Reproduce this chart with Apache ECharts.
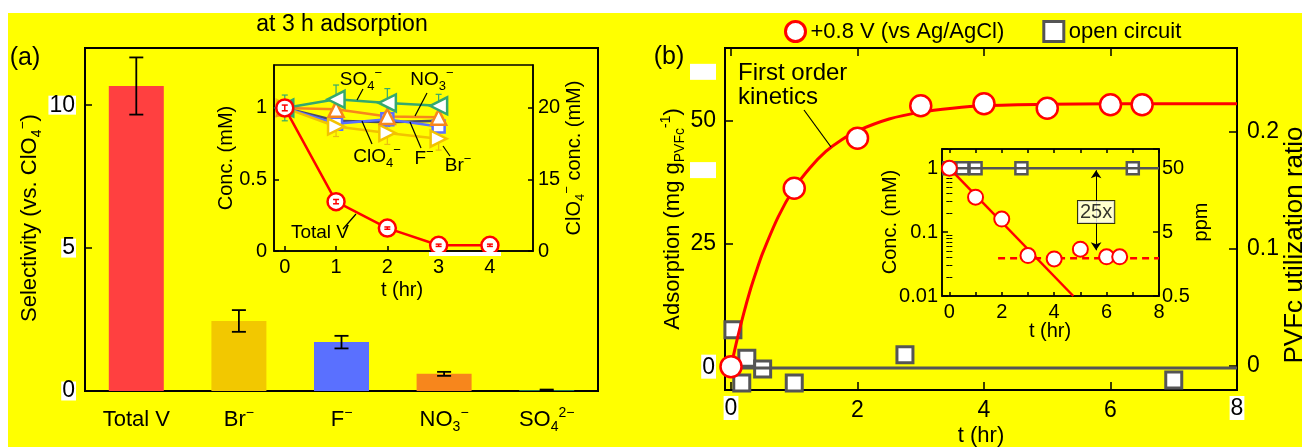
<!DOCTYPE html>
<html><head><meta charset="utf-8">
<script src="https://cdn.jsdelivr.net/npm/echarts@6/dist/echarts.min.js"></script>
<style>html,body{margin:0;padding:0;background:#fff}#c{width:1302px;height:447px}</style>
</head><body><div id="c"></div>
<script>
// ---------------- DATA ----------------
// Panel (a) main: selectivity at 3 h
const selCategories = ['Total V', 'Br{sup|−}', 'F{sup|−}', 'NO{sub|3}{sup|−}', 'SO{sub|4}{sup|2−}'];
const selValues = [10.67, 2.45, 1.71, 0.60, 0.03];
const selErrors = [1.0, 0.38, 0.22, 0.07, 0.02];
const selTicks = [0, 5, 10];

// Panel (a) inset: concentration vs time
const insetATime = [0, 1, 2, 3, 4];
const insetATimeIons = [0, 1, 2, 3];
const totalVConc = [1.0, 0.345, 0.16, 0.04, 0.04];
const totalVErr = [0.02, 0.015, 0.008, 0.008, 0.008];
const so4Conc = [1.0, 1.06, 1.035, 1.015];
const so4Err = [0.09, 0.10, 0.10, 0.08];
const no3Conc = [1.0, 0.99, 0.94, 0.935];
const no3Err = [0.02, 0.03, 0.03, 0.03];
const fConc = [1.0, 0.89, 0.92, 0.87];
const fErr = [0.02, 0.03, 0.05, 0.04];
const clo4Conc = [1.0, 0.91, 0.90, 0.91];
const brConc = [1.0, 0.87, 0.825, 0.785];
const brErr = [0.03, 0.07, 0.08, 0.08];
const insetATimeTicks = [0, 1, 2, 3, 4];
const insetAConcTicks = [0, 0.5, 1];
const insetARightLabels = ['0', '15', '20'];

// Panel (b) main: adsorption vs time
const fitTime = [0, 0.1, 0.2, 0.3, 0.4, 0.5, 0.75, 1, 1.25, 1.5, 1.75, 2, 2.5, 3, 3.5, 4, 5, 6, 7, 8];
const fitAds  = [0, 5.7, 10.8, 15.4, 19.4, 23.1, 30.6, 36.3, 40.5, 43.8, 46.2, 48.0, 50.4, 51.8, 52.6, 53.1, 53.4, 53.5, 53.5, 53.5];
const posTime = [0, 1, 2, 3, 4, 5, 6, 6.5];
const posAds  = [0, 36.3, 46.5, 53.1, 53.5, 52.6, 53.3, 53.3];
const ocTime  = [0.03, 0.25, 0.5, 0.17, 1.0, 2.75, 7.0];
const ocAds   = [7.5, 1.7, -0.5, -3.3, -3.3, 2.4, -2.7];
const ocLevelTime = [0, 8];
const ocLevelAds = [-0.25, -0.25];
const bTimeTicks = [0, 2, 4, 6, 8];
const bAdsTicks = [0, 25, 50];
const bAdsBlankTicks = [40, 60];
const bRatioTicks = [0, 0.1, 0.2];

// Panel (b) inset: log concentration vs time
const insetBPosTime = [0, 1, 2, 3, 4, 5, 6, 6.5];
const insetBPosConc = [1.0, 0.352, 0.16, 0.043, 0.038, 0.054, 0.041, 0.041];
const insetBOcTime = [0, 0.5, 1, 2.75, 7];
const insetBOcConc = [1, 1, 1, 1, 1];
const insetBOcLineTime = [0, 8];
const insetBOcLineConc = [1, 1];
const insetBFitTime = [0, 4.73];
const insetBFitConc = [1, 0.01];
const insetBPlateauTime = [1.86, 8];
const insetBPlateauConc = [0.039, 0.039];
const insetBArrowTime = 5.6;
const insetBArrowConc = [0.93, 0.052];
const insetBRatioLabel = {time: 5.6, conc: 0.206, text: '25x'};
const insetBConcLabels = ['0.01', '0.1', '1'];
const insetBPpmLabels = ['0.5', '5', '50'];
const insetBTimeTicks = [0, 1, 2, 3, 4, 5, 6, 7, 8];
const insetBTimeLabels = [0, 2, 4, 6, 8];
const insetBMinorTicks = [0.02,0.03,0.04,0.05,0.06,0.07,0.08,0.09,0.2,0.3,0.4,0.5,0.6,0.7,0.8,0.9,2];

// ---------------- STYLE ----------------
const FONT = "'Liberation Sans', Arial, Helvetica, sans-serif";
const RED = '#FF0000';
const GRAY = '#555555';
const selColors = ['#FF4040', '#F2C800', '#5A70FF', '#F7861C', '#2E9E5A'];
function richSet(big, small) {
  return {
    sub: {fontSize: small, lineHeight: small, verticalAlign: 'bottom', fontFamily: FONT, color: '#000', fill: '#000'},
    sup: {fontSize: small, lineHeight: small, verticalAlign: 'top', fontFamily: FONT, color: '#000', fill: '#000'},
    w: {fontSize: big, lineHeight: 18, backgroundColor: '#fff', color: '#000', fill: '#000', fontFamily: FONT, padding: [1, 1, 0, 1]},
    blank: {width: 26, height: 16, backgroundColor: '#fff', fontSize: 10}
  };
}
const R23 = richSet(23, 15);
const R22 = richSet(22, 14);
const R20 = richSet(20, 13);

const zip = (a, b) => a.map((v, i) => [v, b[i]]);
const zip3 = (a, b, c) => a.map((v, i) => [v, b[i], c[i]]);

function errorBars(color, cap, lw) {
  return function (params, api) {
    const x = api.value(0), y = api.value(1), e = api.value(2);
    const top = api.coord([x, y + e]), bot = api.coord([x, y - e]);
    const st = {stroke: color, lineWidth: lw};
    return {type: 'group', children: [
      {type: 'line', shape: {x1: top[0], y1: top[1], x2: bot[0], y2: bot[1]}, style: st},
      {type: 'line', shape: {x1: top[0] - cap, y1: top[1], x2: top[0] + cap, y2: top[1]}, style: st},
      {type: 'line', shape: {x1: bot[0] - cap, y1: bot[1], x2: bot[0] + cap, y2: bot[1]}, style: st}
    ]};
  };
}
function tick(values, len, w) {
  return {show: true, inside: true, length: len, customValues: values, lineStyle: {color: '#000', width: w || 1.5}};
}
const axLine = (w) => ({show: true, onZero: false, lineStyle: {color: '#000', width: w}});
const noSplit = {show: false};
const hollow = (c, w) => ({color: '#fff', borderColor: c, borderWidth: w, opacity: 1});

function gtext(x, y, text, size, opts) {
  opts = opts || {};
  return {type: 'text', x: x, y: y, rotation: opts.rot || 0, silent: true, z: 50,
    style: {text: text, fontSize: size, fontFamily: FONT, fill: '#000', lineHeight: opts.lh || Math.round(size * 1.3),
      align: opts.align || 'center', textAlign: opts.align || 'center',
      verticalAlign: 'middle', textVerticalAlign: 'middle', rich: opts.rich || (size >= 22 ? R22 : R20)}};
}
function gline(x1, y1, x2, y2) {
  return {type: 'line', silent: true, z: 50, shape: {x1, y1, x2, y2}, style: {stroke: '#000', lineWidth: 1.2}};
}
const HALF = Math.PI / 2;

const option = {
  animation: false,
  backgroundColor: '#FFFF00',
  textStyle: {fontFamily: FONT},
  grid: [
    {left: 85, top: 48, width: 513, height: 343, show: true, borderColor: '#000', borderWidth: 2, backgroundColor: 'rgba(0,0,0,0)', outerBoundsMode: 'none'},
    {left: 274, top: 65, width: 259, height: 186, show: true, borderColor: '#000', borderWidth: 1.5, backgroundColor: 'rgba(0,0,0,0)', outerBoundsMode: 'none'},
    {left: 725, top: 48, width: 512, height: 342, show: true, borderColor: '#000', borderWidth: 2, backgroundColor: 'rgba(0,0,0,0)', outerBoundsMode: 'none'},
    {left: 942, top: 149, width: 217, height: 147, show: true, borderColor: '#000', borderWidth: 1.5, backgroundColor: 'rgba(0,0,0,0)', outerBoundsMode: 'none'}
  ],
  legend: {
    top: 15, left: 779, itemWidth: 20, itemHeight: 20, itemGap: 38, selectedMode: false,
    textStyle: {fontSize: 22, color: '#000', fontFamily: FONT},
    data: [
      {name: '+0.8 V (vs Ag/AgCl)', icon: 'circle', itemStyle: hollow(RED, 3)},
      {name: 'open circuit', icon: 'rect', itemStyle: hollow(GRAY, 3)}
    ]
  },
  xAxis: [
    {type: 'category', gridIndex: 0, data: selCategories, boundaryGap: true,
      axisLine: axLine(2), axisTick: {show: false}, splitLine: noSplit,
      axisLabel: {color: '#000', fontSize: 22, lineHeight: 28, margin: 15, interval: 0, rich: R22, fontFamily: FONT}},
    {type: 'value', gridIndex: 1, min: -0.21, max: 4.84, axisLine: axLine(1.5), splitLine: noSplit,
      axisTick: tick(insetATimeTicks, 5),
      axisLabel: {customValues: insetATimeTicks, color: '#000', fontSize: 20, margin: 6, fontFamily: FONT}},
    {type: 'value', gridIndex: 2, min: -0.095, max: 8, axisLine: axLine(2), splitLine: noSplit,
      axisTick: tick(bTimeTicks, 8),
      axisLabel: {customValues: bTimeTicks, color: '#000', fontSize: 23, margin: 9, fontFamily: FONT, rich: R23,
        formatter: v => (v === bTimeTicks[0] || v === bTimeTicks[bTimeTicks.length - 1]) ? '{w|' + v + '}' : String(v)}},
    {type: 'value', gridIndex: 2, position: 'top', min: -0.095, max: 8, axisLine: axLine(2), splitLine: noSplit,
      axisTick: tick(bTimeTicks, 8), axisLabel: {show: false}},
    {type: 'value', gridIndex: 3, min: -0.28, max: 8, axisLine: axLine(1.5), splitLine: noSplit,
      axisTick: tick(insetBTimeTicks, 4),
      axisLabel: {customValues: insetBTimeLabels, color: '#000', fontSize: 20, margin: 6, fontFamily: FONT}},
    {type: 'value', gridIndex: 3, position: 'top', min: -0.28, max: 8, axisLine: axLine(1.5), splitLine: noSplit,
      axisTick: tick(insetBTimeTicks, 4), axisLabel: {show: false}}
  ],
  yAxis: [
    {type: 'value', gridIndex: 0, min: 0, max: 12, axisLine: axLine(2), splitLine: noSplit,
      axisTick: tick(selTicks, 7),
      axisLabel: {customValues: selTicks, color: '#000', fontSize: 23, margin: 9, fontFamily: FONT,
        backgroundColor: '#fff', padding: [1, 1, 0, 1], lineHeight: 18}},
    {type: 'value', gridIndex: 1, position: 'left', min: 0, max: 1.3, axisLine: axLine(1.5), splitLine: noSplit,
      axisTick: tick(insetAConcTicks, 5),
      axisLabel: {customValues: insetAConcTicks, color: '#000', fontSize: 20, margin: 7, fontFamily: FONT}},
    {type: 'value', gridIndex: 1, position: 'right', min: 0, max: 1.3, axisLine: axLine(1.5), splitLine: noSplit,
      axisTick: tick(insetAConcTicks, 5),
      axisLabel: {customValues: insetAConcTicks, color: '#000', fontSize: 20, margin: 5, fontFamily: FONT,
        formatter: v => insetARightLabels[insetAConcTicks.indexOf(v)] || ''}},
    {type: 'value', gridIndex: 2, position: 'left', min: -4.75, max: 64.85, axisLine: axLine(2), splitLine: noSplit,
      axisTick: tick(bAdsTicks, 8),
      axisLabel: {customValues: bAdsTicks.concat(bAdsBlankTicks), color: '#000', fontSize: 23, margin: 9, fontFamily: FONT, rich: R23,
        formatter: v => v === 0 ? '{w|0}' : (bAdsBlankTicks.indexOf(v) >= 0 ? '{blank| }' : String(v))}},
    {type: 'value', gridIndex: 2, position: 'right', min: -0.0208, max: 0.2718, axisLine: axLine(2), splitLine: noSplit,
      axisTick: tick(bRatioTicks, 8),
      axisLabel: {customValues: bRatioTicks, color: '#000', fontSize: 23, margin: 10, fontFamily: FONT}},
    {type: 'log', logBase: 10, gridIndex: 3, position: 'left', min: 0.01, max: 2, axisLine: axLine(1.5), splitLine: noSplit,
      axisTick: {show: true, inside: true, length: 6, lineStyle: {color: '#000', width: 1.5}},
      axisLabel: {color: '#000', fontSize: 20, margin: 4, fontFamily: FONT,
        formatter: v => { const l = Math.log10(v), e = Math.round(l); return (Math.abs(l - e) < 1e-6 && e <= 0 && e >= -2) ? insetBConcLabels[e + 2] : ''; }}},
    {type: 'log', logBase: 10, gridIndex: 3, position: 'right', min: 0.01, max: 2, axisLine: axLine(1.5), splitLine: noSplit,
      axisTick: {show: true, inside: true, length: 6, lineStyle: {color: '#000', width: 1.5}},
      axisLabel: {color: '#000', fontSize: 20, margin: 3, fontFamily: FONT,
        formatter: v => { const l = Math.log10(v), e = Math.round(l); return (Math.abs(l - e) < 1e-6 && e <= 0 && e >= -2) ? insetBPpmLabels[e + 2] : ''; }}},
    {type: 'log', logBase: 10, gridIndex: 3, position: 'left', min: 0.01, max: 2, axisLine: {show: false}, splitLine: noSplit,
      axisTick: tick(insetBMinorTicks, 3, 1), axisLabel: {show: false}},
    {type: 'log', logBase: 10, gridIndex: 3, position: 'right', min: 0.01, max: 2, axisLine: {show: false}, splitLine: noSplit,
      axisTick: tick(insetBMinorTicks, 3, 1), axisLabel: {show: false}}
  ],
  series: [
    // ---- panel (a) main
    {type: 'bar', name: 'selectivity', xAxisIndex: 0, yAxisIndex: 0, barWidth: 55,
      data: selValues.map((v, i) => ({value: v, itemStyle: {color: selColors[i]}}))},
    {type: 'custom', name: 'sel-err', xAxisIndex: 0, yAxisIndex: 0, z: 5,
      renderItem: errorBars('#000', 7, 1.8), data: selValues.map((v, i) => [i, v, selErrors[i]])},
    // ---- panel (a) inset
    {type: 'line', name: 'ClO4', xAxisIndex: 1, yAxisIndex: 1, symbol: 'none',
      lineStyle: {color: '#4A4A66', width: 2.5}, data: zip(insetATimeIons, clo4Conc)},
    {type: 'custom', name: 'f-err', xAxisIndex: 1, yAxisIndex: 1, renderItem: errorBars('#5A70FF', 3, 1.2), data: zip3(insetATimeIons, fConc, fErr)},
    {type: 'line', name: 'F', xAxisIndex: 1, yAxisIndex: 1, symbol: 'rect', symbolSize: 12,
      itemStyle: hollow('#5A70FF', 2.5), lineStyle: {color: '#5A70FF', width: 2.5},
      data: zip(insetATimeIons, fConc)},
    {type: 'custom', name: 'br-err', xAxisIndex: 1, yAxisIndex: 1, renderItem: errorBars('#E8BE10', 3, 1.2), data: zip3(insetATimeIons, brConc, brErr)},
    {type: 'line', name: 'Br', xAxisIndex: 1, yAxisIndex: 1, symbol: 'triangle', symbolRotate: -90, symbolSize: 16,
      itemStyle: hollow('#F2C200', 2.5), lineStyle: {color: '#F2C200', width: 2.5},
      data: zip(insetATimeIons, brConc)},
    {type: 'custom', name: 'no3-err', xAxisIndex: 1, yAxisIndex: 1, renderItem: errorBars('#F7861C', 3, 1.2), data: zip3(insetATimeIons, no3Conc, no3Err)},
    {type: 'line', name: 'NO3', xAxisIndex: 1, yAxisIndex: 1, symbol: 'triangle', symbolSize: 15,
      itemStyle: hollow('#F7861C', 2.5), lineStyle: {color: '#F7861C', width: 2.5},
      data: zip(insetATimeIons, no3Conc)},
    {type: 'custom', name: 'so4-err', xAxisIndex: 1, yAxisIndex: 1, renderItem: errorBars('#35A86E', 3, 1.2), data: zip3(insetATimeIons, so4Conc, so4Err)},
    {type: 'line', name: 'SO4', xAxisIndex: 1, yAxisIndex: 1, symbol: 'triangle', symbolRotate: 90, symbolSize: 17,
      itemStyle: hollow('#35A86E', 2.5), lineStyle: {color: '#35A86E', width: 2.5},
      data: zip(insetATimeIons, so4Conc)},
    {type: 'line', name: 'Total V', xAxisIndex: 1, yAxisIndex: 1, symbol: 'circle', symbolSize: 17, z: 6,
      itemStyle: hollow(RED, 2.5), lineStyle: {color: RED, width: 2.5},
      data: zip(insetATime, totalVConc)},
    {type: 'custom', name: 'v-err', xAxisIndex: 1, yAxisIndex: 1, z: 7, renderItem: errorBars(RED, 3, 1.5), data: zip3(insetATime, totalVConc, totalVErr)},
    // ---- panel (b) main
    {type: 'line', name: 'oc-level', xAxisIndex: 2, yAxisIndex: 3, symbol: 'none',
      lineStyle: {color: GRAY, width: 3}, data: zip(ocLevelTime, ocLevelAds)},
    {type: 'scatter', name: 'open circuit', xAxisIndex: 2, yAxisIndex: 3, symbol: 'rect', symbolSize: 16,
      itemStyle: hollow(GRAY, 3), data: zip(ocTime, ocAds)},
    {type: 'line', name: 'first-order fit', xAxisIndex: 2, yAxisIndex: 3, symbol: 'none', smooth: 0.3,
      lineStyle: {color: RED, width: 3}, data: zip(fitTime, fitAds)},
    {type: 'scatter', name: '+0.8 V (vs Ag/AgCl)', xAxisIndex: 2, yAxisIndex: 3, symbol: 'circle', symbolSize: 21, z: 6,
      itemStyle: hollow(RED, 2.5), data: zip(posTime, posAds)},
    // ---- panel (b) inset
    {type: 'line', name: 'inset-oc-line', xAxisIndex: 4, yAxisIndex: 5, symbol: 'none',
      lineStyle: {color: GRAY, width: 2.5}, data: zip(insetBOcLineTime, insetBOcLineConc),
      markLine: {silent: true, symbol: ['arrow', 'arrow'], symbolSize: 8, label: {show: false},
        lineStyle: {color: '#000', width: 1, type: 'solid'},
        data: [[{coord: [insetBArrowTime, insetBArrowConc[0]]}, {coord: [insetBArrowTime, insetBArrowConc[1]]}]]}},
    {type: 'scatter', name: 'inset-oc', xAxisIndex: 4, yAxisIndex: 5, symbol: 'rect', symbolSize: 12,
      itemStyle: hollow(GRAY, 2.5), data: zip(insetBOcTime, insetBOcConc)},
    {type: 'line', name: 'inset-fit', xAxisIndex: 4, yAxisIndex: 5, symbol: 'none',
      lineStyle: {color: RED, width: 2.5}, data: zip(insetBFitTime, insetBFitConc)},
    {type: 'line', name: 'inset-plateau', xAxisIndex: 4, yAxisIndex: 5, symbol: 'none',
      lineStyle: {color: RED, width: 2.5, type: [7, 5]}, data: zip(insetBPlateauTime, insetBPlateauConc)},
    {type: 'scatter', name: 'inset-pos', xAxisIndex: 4, yAxisIndex: 5, symbol: 'circle', symbolSize: 15, z: 6,
      itemStyle: hollow(RED, 2), data: zip(insetBPosTime, insetBPosConc)},
    {type: 'scatter', name: 'inset-ratio', xAxisIndex: 4, yAxisIndex: 5, symbolSize: 1, z: 8,
      itemStyle: {color: 'rgba(0,0,0,0)'},
      label: {show: true, position: 'inside', formatter: insetBRatioLabel.text, fontSize: 20, color: '#000', fontFamily: FONT,
        backgroundColor: '#fff', borderColor: '#000', borderWidth: 1, padding: [2, 2, 0, 2]},
      data: [[insetBRatioLabel.time, insetBRatioLabel.conc]]}
  ],
  graphic: [
    {type: 'rect', silent: true, z: -10, shape: {x: 0, y: 0, width: 1302, height: 13}, style: {fill: '#fff'}},
    {type: 'rect', silent: true, z: -10, shape: {x: 0, y: 0, width: 8, height: 447}, style: {fill: '#fff'}},
    {type: 'rect', silent: true, z: 40, shape: {x: 429, y: 252, width: 72, height: 4}, style: {fill: '#fff'}},
    gtext(342, 25, 'at 3 h adsorption', 23),
    gtext(25, 58, '(a)', 25),
    gtext(669, 57, '(b)', 25),
    gtext(30, 218, 'Selectivity (vs. ClO{sub|4}{sup|−})', 22, {rot: HALF, lh: 28}),
    gtext(673, 219, 'Adsorption (mg g{sub|PVFc}{sup|-1})', 22, {rot: HALF, lh: 28}),
    gtext(1295, 245, 'PVFc utilization ratio', 26, {rot: HALF}),
    gtext(226, 158, 'Conc. (mM)', 20, {rot: HALF}),
    gtext(574, 158, 'ClO{sub|4}{sup|−} conc. (mM)', 20, {rot: HALF, lh: 26}),
    gtext(402, 290, 't (hr)', 20),
    gtext(890, 222, 'Conc. (mM)', 20, {rot: HALF}),
    gtext(1201, 222, 'ppm', 20, {rot: HALF}),
    gtext(1050, 331, 't (hr)', 20),
    gtext(981, 436, 't (hr)', 22),
    gtext(738, 73, 'First order', 24, {align: 'left'}),
    gtext(738, 97, 'kinetics', 24, {align: 'left'}),
    gline(804, 110, 831, 147),
    gtext(361, 80, 'SO{sub|4}{sup|−}', 19, {lh: 26}),
    gtext(432, 80, 'NO{sub|3}{sup|−}', 19, {lh: 26}),
    gtext(377, 157, 'ClO{sub|4}{sup|−}', 19, {lh: 26}),
    gtext(424, 159, 'F{sup|−}', 19, {lh: 26}),
    gtext(458, 166, 'Br{sup|−}', 19, {lh: 26}),
    gtext(320, 233, 'Total V', 19),
    gline(363, 89, 357, 100),
    gline(427, 93, 415, 116),
    gline(372, 144, 362, 121),
    gline(421, 148, 410, 122),
    gline(450, 156, 443, 146),
    gline(343, 229, 356, 214)
  ]
};
const chart = echarts.init(document.getElementById('c'), null, {renderer: 'canvas', width: 1302, height: 447});
chart.setOption(option);
</script></body></html>
